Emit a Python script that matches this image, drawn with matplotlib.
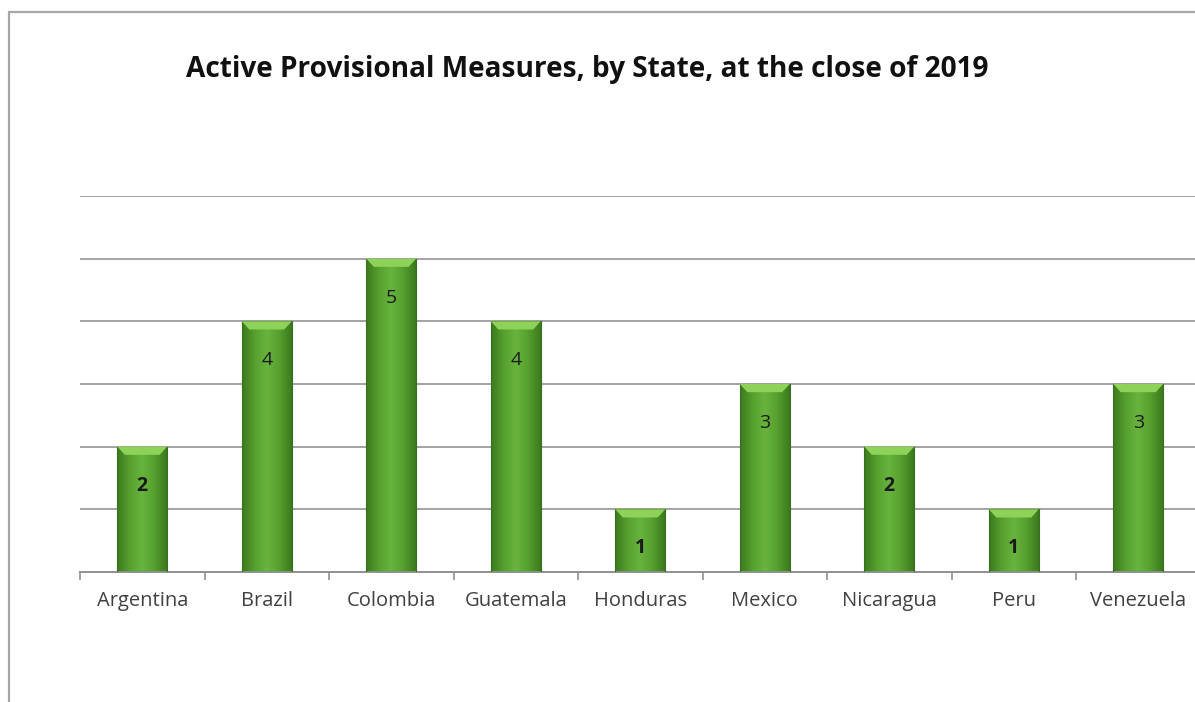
import numpy as np
import matplotlib
matplotlib.use("Agg")
import matplotlib.pyplot as plt
from matplotlib.patches import Rectangle, Polygon
from matplotlib.colors import LinearSegmentedColormap

states = ['Argentina', 'Brazil', 'Colombia', 'Guatemala', 'Honduras',
          'Mexico', 'Nicaragua', 'Peru', 'Venezuela']
measures = [2, 4, 5, 4, 1, 3, 2, 1, 3]

W, H = 1195, 702
fig = plt.figure(figsize=(W / 100, H / 100), dpi=100)
fig.patch.set_facecolor('white')

# outer chart-area frame (cropped on the right and bottom)
fig.patches.append(Rectangle((9 / W, -0.05), 1.2, 1 - 12 / H + 0.05,
                             transform=fig.transFigure, fill=False,
                             edgecolor='#a6a6a6', linewidth=1.6))

ax = fig.add_axes([80 / W, 1 - 572 / H, 9 * 124.5 / W, (572 - 196) / H])
ax.set_xlim(-0.5, len(states) - 0.5)
ax.set_ylim(0, 6)

for y in range(1, 7):
    ax.axhline(y, color='#a3a3a3', linewidth=1.4, zorder=1)

grad = LinearSegmentedColormap.from_list(
    'g', ['#3c7a1e', '#56a02f', '#68b43e', '#56a02f', '#3c7a1e'])
img = np.linspace(0, 1, 64).reshape(1, -1)
bw = 0.4
for i, v in enumerate(measures):
    x0 = i - bw / 2
    rect = Rectangle((x0, 0), bw, v, facecolor='none', edgecolor='#3a6e1f',
                     linewidth=0.8, zorder=3)
    ax.add_patch(rect)
    im = ax.imshow(img, cmap=grad, extent=(x0, x0 + bw, 0, v), aspect='auto',
                   zorder=2, interpolation='bicubic')
    im.set_clip_path(rect)
    # bevelled top
    bev = 0.13
    ax.add_patch(Polygon([(x0, v), (x0 + bw, v), (x0 + bw - 0.06, v - bev),
                          (x0 + 0.06, v - bev)], closed=True,
                         facecolor='#8fd259', edgecolor='none', zorder=3))
    ax.text(i, v - 0.62, str(v), ha='center', va='center', fontsize=14,
            fontfamily='Open Sans', color='#1a1a1a',
            fontweight='bold' if v <= 2 else 'normal', zorder=4)

ax.set_xticks(np.arange(len(states)))
ax.set_xticklabels(states, fontsize=14.5, fontfamily='Open Sans', color='#404040')
ax.set_xticks(np.arange(-0.5, len(states)), minor=True)
ax.tick_params(axis='x', which='major', length=0, pad=14)
ax.tick_params(axis='x', which='minor', length=6, width=1.2, color='#909090')
ax.set_yticks([])
for s in ['left', 'right', 'top']:
    ax.spines[s].set_visible(False)
ax.spines['bottom'].set_color('#909090')
ax.spines['bottom'].set_linewidth(1.4)
ax.set_zorder(1)

fig.text(587 / W, 1 - 70 / H, 'Active Provisional Measures, by State, at the close of 2019',
         ha='center', va='center', fontsize=20.2, fontweight='bold',
         fontfamily='Open Sans', color='#111111')

fig.savefig('out.png', dpi=100)
